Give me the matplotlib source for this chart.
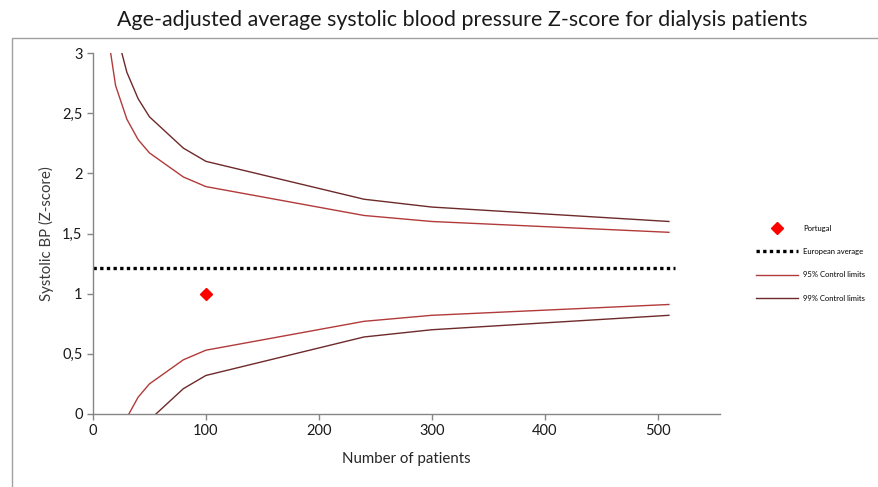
import matplotlib
matplotlib.use("Agg")
import matplotlib.pyplot as plt
from matplotlib.patches import Rectangle

plt.rcParams['font.family'] = ['Lato', 'DejaVu Sans']

# number of patients at the vertices of the control limit lines
n_patients = [10, 20, 30, 40, 50, 80, 100, 240, 300, 510]
upper_95 = [3.35, 2.73, 2.45, 2.28, 2.17, 1.97, 1.89, 1.65, 1.60, 1.51]
lower_95 = [-0.93, -0.31, -0.03, 0.14, 0.25, 0.45, 0.53, 0.77, 0.82, 0.91]
upper_99 = [4.03, 3.20, 2.84, 2.62, 2.47, 2.21, 2.10, 1.785, 1.72, 1.60]
lower_99 = [-1.61, -0.78, -0.42, -0.20, -0.05, 0.21, 0.32, 0.64, 0.70, 0.82]

euro_x = [0, 515]
euro_avg = [1.21, 1.21]

portugal_n = [100]
portugal_z = [1.0]

y_ticks = [0, 0.5, 1, 1.5, 2, 2.5, 3]
y_tick_labels = ["0", "0,5", "1", "1,5", "2", "2,5", "3"]
x_ticks = [0, 100, 200, 300, 400, 500]

c95 = "#b23a3a"
c99 = "#6e2a2a"
grey = "#868686"

fig = plt.figure(figsize=(8.79, 4.87), dpi=100)
ax = fig.add_axes([0.1058, 0.150, 0.713, 0.741])

ax.plot(portugal_n, portugal_z, linestyle="none", marker="D", markersize=6,
        color="#ff0000", label="Portugal")
ax.plot(euro_x, euro_avg, color="black", linewidth=2.4, linestyle=(0, (1, 1)),
        label="European average")
ax.plot(n_patients, upper_95, color=c95, linewidth=1.0, label="95% Control limits")
ax.plot(n_patients, upper_99, color=c99, linewidth=1.0, label="99% Control limits")
ax.plot(n_patients, lower_95, color=c95, linewidth=1.0)
ax.plot(n_patients, lower_99, color=c99, linewidth=1.0)

ax.set_xlim(0, 555)
ax.set_ylim(0, 3)
ax.set_xticks(x_ticks)
ax.set_yticks(y_ticks)
ax.set_yticklabels(y_tick_labels)

for side in ["top", "right"]:
    ax.spines[side].set_visible(False)
for side in ["left", "bottom"]:
    ax.spines[side].set_color(grey)
    ax.spines[side].set_linewidth(1.0)
ax.tick_params(axis="both", colors=grey, labelcolor="#1a1a1a", labelsize=10.5,
               length=4, width=1.0)

ax.set_xlabel("Number of patients", fontsize=10.8, color="#262626", labelpad=10)
ax.set_ylabel("Systolic BP (Z-score)", fontsize=10.8, color="#3a3a3a", labelpad=6)

fig.suptitle("Age-adjusted average systolic blood pressure Z-score for dialysis patients",
             x=0.526, y=0.98, fontsize=15.4, color="#1a1a1a")

leg = ax.legend(loc="upper left", bbox_to_anchor=(0.857, 0.545), bbox_transform=fig.transFigure,
                frameon=False, fontsize=5.5, handlelength=5.5, labelspacing=2.15,
                handletextpad=0.6, borderaxespad=0)

# chart area border
fig.patches.append(Rectangle((12 / 879, -0.05), 1.0, 0.05 + 1 - 38 / 487, transform=fig.transFigure,
                             fill=False, edgecolor="#a0a0a0", linewidth=1.0))

fig.savefig("out.png", dpi=100)
